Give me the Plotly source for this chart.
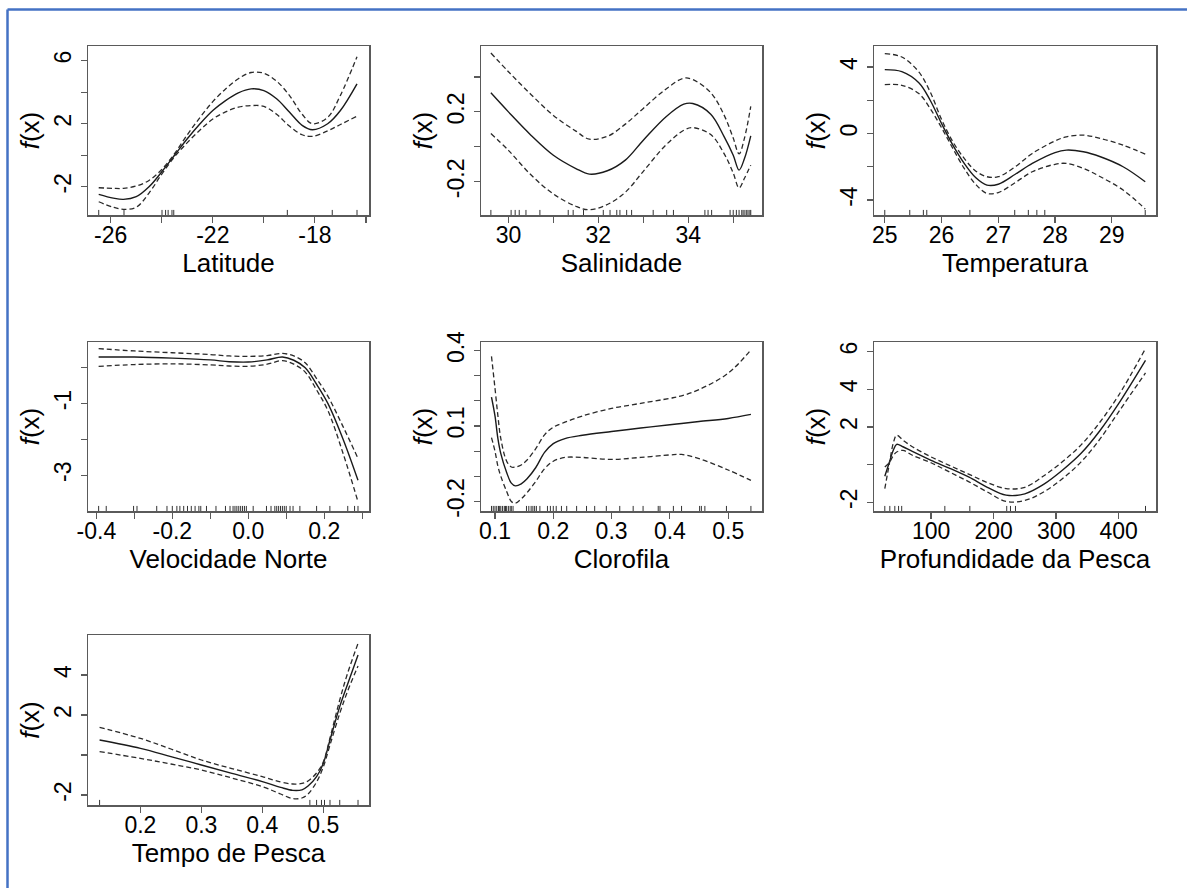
import plotly.graph_objects as go

W, H = 1187, 888

# ---------------- data ----------------
# Latitude
lat_x = [-26.47, -25.9, -25.5, -25.0, -24.5, -24.0, -23.5, -23.0, -22.5, -22.0, -21.5,
         -21.0, -20.5, -20.0, -19.5, -19.0, -18.5, -18.1, -17.5, -17.0, -16.35]
lat_fit = [-2.48, -2.72, -2.8, -2.63, -2.0, -1.05, 0.0, 1.05, 2.0, 2.84, 3.47,
           3.96, 4.21, 4.1, 3.58, 2.74, 1.9, 1.62, 2.0, 2.84, 4.53]
lat_hi = [-2.06, -2.1, -2.1, -1.95, -1.6, -0.9, 0.1, 1.3, 2.4, 3.4, 4.2,
          4.85, 5.25, 5.2, 4.7, 3.8, 2.6, 2.0, 2.4, 3.8, 6.25]
lat_lo = [-2.95, -3.3, -3.43, -3.3, -2.4, -1.2, -0.1, 0.8, 1.6, 2.3, 2.75,
          3.05, 3.15, 3.1, 2.6, 1.85, 1.3, 1.2, 1.55, 1.95, 2.48]
lat_rug = [-26.47, -25.48, -23.99, -23.85, -23.75, -23.6, -23.53, -19.08, -17.32, -16.35]

# Salinidade
sal_x = [29.61, 30.0, 30.5, 31.0, 31.5, 31.8, 32.2, 32.6, 33.0, 33.5, 33.9, 34.1,
         34.5, 34.8, 35.0, 35.13, 35.25, 35.39]
sal_fit = [0.309, 0.2, 0.067, -0.048, -0.124, -0.156, -0.137, -0.076, 0.038, 0.171, 0.244, 0.248,
           0.187, 0.057, -0.048, -0.133, -0.067, 0.063]
sal_hi = [0.537, 0.43, 0.3, 0.18, 0.09, 0.044, 0.06, 0.13, 0.22, 0.33, 0.393, 0.385,
          0.31, 0.18, 0.05, -0.04, 0.05, 0.232]
sal_lo = [0.076, -0.02, -0.16, -0.27, -0.34, -0.36, -0.33, -0.26, -0.14, 0.01, 0.095, 0.11,
          0.07, -0.04, -0.15, -0.235, -0.18, -0.105]
sal_rug = [29.61, 30.06, 30.15, 30.24, 30.39, 30.70, 31.33, 31.44, 31.67, 32.11, 32.26, 32.41,
           32.48, 32.63, 32.74, 33.22, 33.52, 33.67, 34.37, 34.44, 34.52, 34.93, 35.0, 35.07,
           35.13, 35.19, 35.22, 35.26, 35.30, 35.33, 35.37, 35.39]

# Temperatura
tem_x = [25.0, 25.3, 25.6, 25.8, 26.0, 26.2, 26.4, 26.6, 26.8, 27.0, 27.3, 27.6,
         28.0, 28.2, 28.5, 28.8, 29.2, 29.59]
tem_fit = [3.84, 3.72, 3.05, 2.0, 0.6, -0.7, -1.8, -2.65, -3.1, -3.05, -2.45, -1.8,
           -1.15, -1.0, -1.1, -1.4, -2.0, -2.9]
tem_hi = [4.8, 4.6, 3.7, 2.5, 0.85, -0.5, -1.5, -2.25, -2.6, -2.6, -2.0, -1.2,
          -0.45, -0.2, -0.1, -0.3, -0.7, -1.24]
tem_lo = [2.94, 2.9, 2.4, 1.5, 0.35, -0.9, -2.1, -3.05, -3.6, -3.55, -2.95, -2.3,
          -1.85, -1.8, -2.1, -2.6, -3.4, -4.54]
tem_rug = [25.0, 25.44, 25.68, 25.74, 26.5, 27.29, 27.53, 27.68, 27.82, 29.59]

# Velocidade Norte
vel_x = [-0.394, -0.3, -0.2, -0.1, -0.05, 0.0, 0.05, 0.09, 0.12, 0.15, 0.18, 0.21, 0.25, 0.289]
vel_fit = [0.30, 0.30, 0.27, 0.22, 0.17, 0.16, 0.22, 0.30, 0.21, 0.0, -0.46, -1.0, -2.0, -3.14]
vel_hi = [0.535, 0.47, 0.42, 0.37, 0.33, 0.32, 0.34, 0.40, 0.33, 0.14, -0.3, -0.8, -1.65, -2.53]
vel_lo = [0.04, 0.09, 0.11, 0.08, 0.05, 0.04, 0.1, 0.2, 0.1, -0.12, -0.62, -1.2, -2.4, -3.74]
vel_rug = [-0.394, -0.374, -0.302, -0.293, -0.241, -0.214, -0.2, -0.188, -0.18, -0.17, -0.16,
           -0.15, -0.14, -0.13, -0.125, -0.11, -0.085, -0.06, -0.048, -0.04, -0.035, -0.03,
           -0.025, -0.02, -0.015, -0.01, -0.005, 0.013, 0.048, 0.06, 0.07, 0.075, 0.08, 0.085,
           0.09, 0.095, 0.1, 0.11, 0.118, 0.136, 0.18, 0.215, 0.262, 0.28, 0.289]

# Clorofila
clo_x = [0.094, 0.1, 0.105, 0.11, 0.12, 0.128, 0.135, 0.145, 0.155, 0.17, 0.185, 0.2,
         0.22, 0.25, 0.3, 0.35, 0.4, 0.42, 0.45, 0.5, 0.539]
clo_fit = [0.215, 0.14, 0.05, -0.01, -0.085, -0.127, -0.138, -0.13, -0.11, -0.065, -0.005, 0.03,
           0.05, 0.063, 0.078, 0.092, 0.105, 0.11, 0.118, 0.13, 0.146]
clo_hi = [0.377, 0.25, 0.14, 0.05, -0.04, -0.063, -0.063, -0.055, -0.035, 0.01, 0.065, 0.095,
          0.115, 0.14, 0.17, 0.19, 0.21, 0.22, 0.245, 0.31, 0.403]
clo_lo = [0.054, 0.0, -0.06, -0.1, -0.16, -0.2, -0.207, -0.19, -0.165, -0.12, -0.07, -0.04,
          -0.025, -0.025, -0.033, -0.025, -0.015, -0.013, -0.03, -0.075, -0.116]
clo_rug = [0.094, 0.097, 0.1, 0.103, 0.106, 0.108, 0.11, 0.113, 0.116, 0.118, 0.12, 0.123,
           0.126, 0.128, 0.131, 0.154, 0.158, 0.162, 0.165, 0.168, 0.171, 0.177, 0.19, 0.195,
           0.2, 0.205, 0.214, 0.223, 0.24, 0.257, 0.271, 0.291, 0.314, 0.337, 0.354, 0.38,
           0.383, 0.406, 0.42, 0.451, 0.454, 0.46, 0.497, 0.539]

# Profundidade da Pesca
pro_x = [26, 33, 40, 45, 55, 70, 100, 130, 160, 190, 220, 250, 280, 310, 340, 370, 400, 443]
pro_fit = [-0.62, 0.1, 0.8, 1.08, 0.95, 0.7, 0.23, -0.2, -0.65, -1.2, -1.62, -1.55, -1.05,
           -0.3, 0.6, 1.8, 3.24, 5.54]
pro_hi = [-1.27, 0.0, 1.2, 1.56, 1.3, 0.95, 0.41, -0.05, -0.5, -0.95, -1.27, -1.2, -0.6,
          0.15, 1.05, 2.25, 3.68, 6.16]
pro_lo = [-0.12, 0.1, 0.5, 0.67, 0.76, 0.5, 0.1, -0.4, -0.9, -1.45, -1.95, -1.9, -1.45,
          -0.75, 0.15, 1.35, 2.8, 4.87]
pro_rug = [26, 34, 42, 48, 53, 122, 162, 221, 227, 235, 443]

# Tempo de Pesca
tmp_x = [0.133, 0.2, 0.25, 0.3, 0.35, 0.4, 0.43, 0.45, 0.465, 0.475, 0.489, 0.5, 0.511,
         0.527, 0.54, 0.557]
tmp_fit = [0.75, 0.33, -0.08, -0.5, -0.92, -1.33, -1.62, -1.77, -1.74, -1.55, -1.08, -0.42,
           0.75, 2.42, 3.55, 5.0]
tmp_hi = [1.38, 0.83, 0.3, -0.25, -0.68, -1.08, -1.35, -1.45, -1.42, -1.3, -0.9, -0.35,
          0.85, 2.75, 4.1, 5.58]
tmp_lo = [0.17, -0.17, -0.45, -0.75, -1.15, -1.58, -1.95, -2.18, -2.15, -1.95, -1.35, -0.6,
          0.5, 2.08, 3.2, 4.45]
tmp_rug = [0.133, 0.478, 0.489, 0.497, 0.502, 0.511, 0.527, 0.557]

# ---------------- panel layout ----------------
panels = [
    dict(x=lat_x, fit=lat_fit, lo=lat_lo, hi=lat_hi, rug=lat_rug, title="Latitude",
         box=(88, 369, 46, 215), xr=[-26.89, -15.88], yr=[-3.79, 6.93],
         xt=[-26, -24, -22, -20, -18, -16], xl=["-26", "", "-22", "", "-18", ""],
         yt=[-2, 0, 2, 4, 6], yl=["-2", "", "2", "", "6"]),
    dict(x=sal_x, fit=sal_fit, lo=sal_lo, hi=sal_hi, rug=sal_rug, title="Salinidade",
         box=(481, 762, 46, 215), xr=[29.39, 35.64], yr=[-0.39, 0.577],
         xt=[30, 31, 32, 33, 34, 35], xl=["30", "", "32", "", "34", ""],
         yt=[-0.2, 0.0, 0.2, 0.4], yl=["-0.2", "", "0.2", ""]),
    dict(x=tem_x, fit=tem_fit, lo=tem_lo, hi=tem_hi, rug=tem_rug, title="Temperatura",
         box=(874, 1156, 46, 215), xr=[24.81, 29.78], yr=[-4.9, 5.26],
         xt=[25, 26, 27, 28, 29], xl=["25", "26", "27", "28", "29"],
         yt=[-4, -2, 0, 2, 4], yl=["-4", "", "0", "", "4"]),
    dict(x=vel_x, fit=vel_fit, lo=vel_lo, hi=vel_hi, rug=vel_rug, title="Velocidade Norte",
         box=(88, 369, 342, 511), xr=[-0.422, 0.318], yr=[-4.0, 0.72],
         xt=[-0.4, -0.3, -0.2, -0.1, 0.0, 0.1, 0.2, 0.3],
         xl=["-0.4", "", "-0.2", "", "0.0", "", "0.2", ""],
         yt=[-3, -2, -1, 0], yl=["-3", "", "-1", ""]),
    dict(x=clo_x, fit=clo_fit, lo=clo_lo, hi=clo_hi, rug=clo_rug, title="Clorofila",
         box=(481, 762, 342, 511), xr=[0.076, 0.558], yr=[-0.238, 0.434],
         xt=[0.1, 0.2, 0.3, 0.4, 0.5], xl=["0.1", "0.2", "0.3", "0.4", "0.5"],
         yt=[-0.2, -0.1, 0.0, 0.1, 0.2, 0.3, 0.4], yl=["-0.2", "", "", "0.1", "", "", "0.4"]),
    dict(x=pro_x, fit=pro_fit, lo=pro_lo, hi=pro_hi, rug=pro_rug, title="Profundidade da Pesca",
         box=(874, 1156, 342, 511), xr=[8.7, 459.8], yr=[-2.46, 6.51],
         xt=[100, 200, 300, 400], xl=["100", "200", "300", "400"],
         yt=[-2, 0, 2, 4, 6], yl=["-2", "", "2", "4", "6"]),
    dict(x=tmp_x, fit=tmp_fit, lo=tmp_lo, hi=tmp_hi, rug=tmp_rug, title="Tempo de Pesca",
         box=(88, 369, 635, 805), xr=[0.114, 0.575], yr=[-2.5, 6.0],
         xt=[0.2, 0.3, 0.4, 0.5], xl=["0.2", "0.3", "0.4", "0.5"],
         yt=[-2, 0, 2, 4], yl=["-2", "", "2", "4"]),
]

FONT = "Liberation Sans, Arial, sans-serif"
AXC = "#5a5a5a"

fig = go.Figure()
layout = dict(
    width=W, height=H, autosize=False,
    margin=dict(l=0, r=0, t=0, b=0, autoexpand=False),
    paper_bgcolor="white", plot_bgcolor="white",
    showlegend=False,
    font=dict(family=FONT, color="black"),
    shapes=[
        dict(type="line", xref="paper", yref="paper", x0=7.5 / W, x1=1.0,
             y0=1 - 9.5 / H, y1=1 - 9.5 / H, line=dict(color="#4472C4", width=2.5)),
        dict(type="line", xref="paper", yref="paper", x0=7.5 / W, x1=7.5 / W,
             y0=0, y1=1 - 9.5 / H, line=dict(color="#4472C4", width=2.5)),
    ],
)

for i, p in enumerate(panels):
    k = "" if i == 0 else str(i + 1)
    xa, ya = "x" + k, "y" + k
    fig.add_trace(go.Scatter(x=p["x"], y=p["fit"], xaxis=xa, yaxis=ya, mode="lines",
                             line=dict(color="#1a1a1a", width=1.4, shape="spline"),
                             hoverinfo="skip"))
    for band in ("lo", "hi"):
        fig.add_trace(go.Scatter(x=p["x"], y=p[band], xaxis=xa, yaxis=ya, mode="lines",
                                 line=dict(color="#2a2a2a", width=1.3, dash="5px,3px",
                                           shape="spline"),
                                 hoverinfo="skip"))
    y0 = p["yr"][0]
    y1 = y0 + 0.03 * (p["yr"][1] - p["yr"][0])
    rx, ry = [], []
    for v in p["rug"]:
        rx += [v, v, None]
        ry += [y0, y1, None]
    fig.add_trace(go.Scatter(x=rx, y=ry, xaxis=xa, yaxis=ya, mode="lines",
                             line=dict(color="#333333", width=1), hoverinfo="skip"))

    bx0, bx1, by0, by1 = p["box"]
    common = dict(showline=True, mirror=True, linecolor=AXC, linewidth=1.5, automargin=False,
                  showgrid=False, zeroline=False, ticks="outside", ticklen=6,
                  tickwidth=1.2, tickcolor=AXC, tickfont=dict(size=23, color="black"))
    layout["xaxis" + k] = dict(domain=[bx0 / W, bx1 / W], anchor=ya, range=p["xr"],
                               tickmode="array", tickvals=p["xt"], ticktext=p["xl"],
                               ticklabelstandoff=-7,
                               title=dict(text=p["title"], font=dict(size=26), standoff=0),
                               **common)
    layout["yaxis" + k] = dict(domain=[1 - by1 / H, 1 - by0 / H], anchor=xa, range=p["yr"],
                               tickmode="array", tickvals=p["yt"], ticktext=p["yl"],
                               tickangle=-90,
                               title=dict(text="<i>f</i>(x)", font=dict(size=26), standoff=3),
                               **common)

fig.update_layout(**layout)
fig.write_html("out.html", config={"displayModeBar": False, "staticPlot": True},
               post_script="document.body.style.margin='0px';document.body.style.overflow='hidden';")
